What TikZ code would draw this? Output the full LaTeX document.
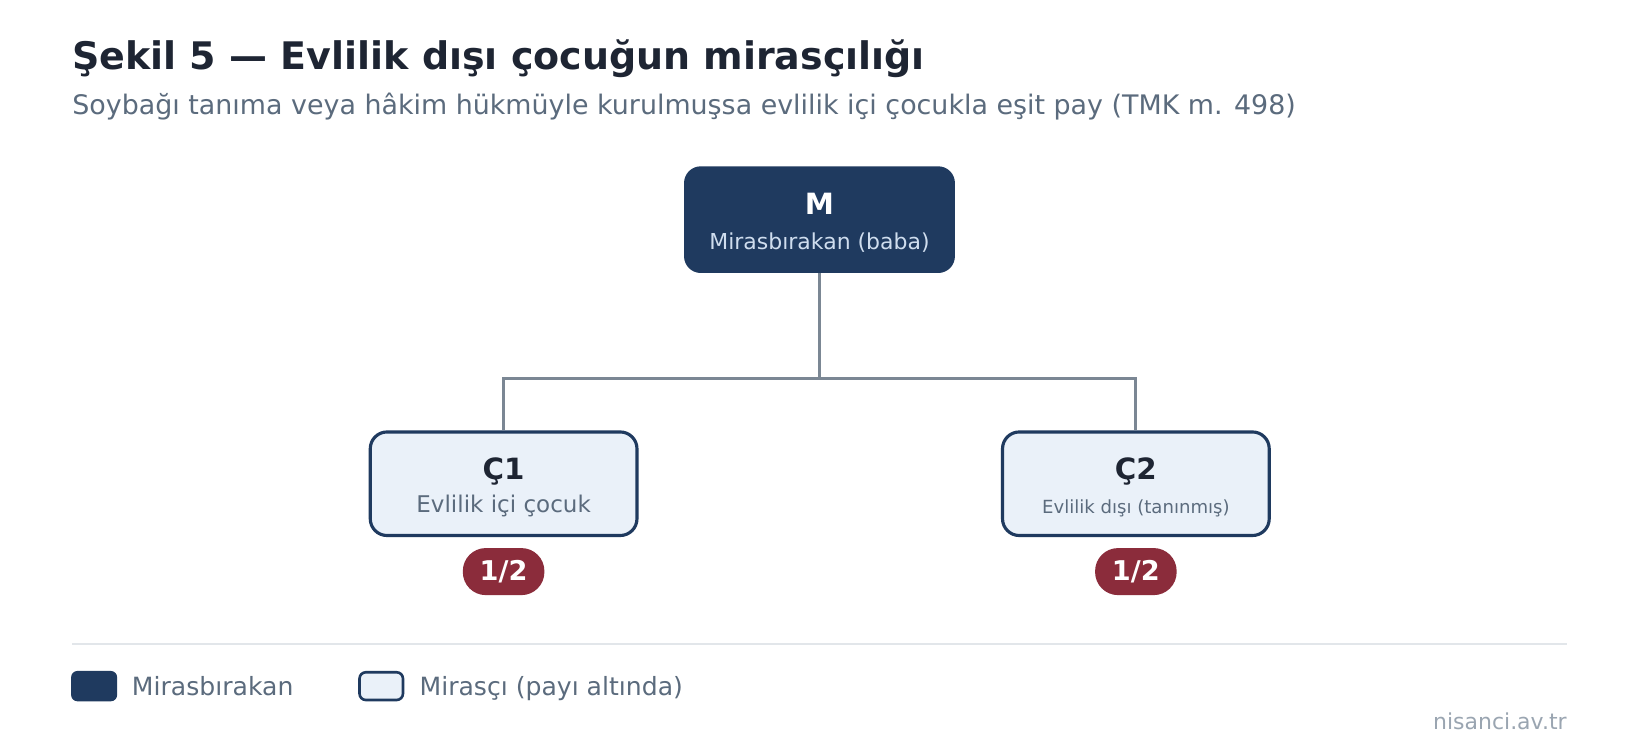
\documentclass[tikz,border=0pt]{standalone}
\usepackage{fontspec}
\setmainfont{DejaVu Sans}
\definecolor{navy}{HTML}{1F3A5F}
\definecolor{titlec}{HTML}{1E2533}
\definecolor{subc}{HTML}{5B6B7D}
\definecolor{lightc}{HTML}{EAF1F9}
\definecolor{linkc}{HTML}{7B8794}
\definecolor{badgec}{HTML}{8B2C3B}
\definecolor{sepc}{HTML}{E2E6EA}
\definecolor{mutedc}{HTML}{9AA5B1}
\definecolor{paletxt}{HTML}{CFDDEE}
\newcommand{\fs}[1]{\fontsize{#1pt}{#1pt}\selectfont}
\tikzset{
  x=1pt,y=-1pt,
  rootbox/.style={draw=none,fill=navy,rounded corners=16pt,minimum width=259pt,minimum height=102pt,inner sep=0pt},
  heirbox/.style={draw=navy,line width=3pt,fill=lightc,rounded corners=16pt,minimum width=255pt,minimum height=99pt,inner sep=0pt},
  badge/.style={fill=badgec,rounded corners=22pt,minimum width=78pt,minimum height=45pt,inner sep=0pt,text=white,font=\fs{26}\bfseries},
  link/.style={draw=linkc,line width=2.8pt},
  txt/.style={inner sep=0pt,anchor=base}
}
\begin{document}
\begin{tikzpicture}
\useasboundingbox (0,0) rectangle (1568,719);
\fill[white] (0,0) rectangle (1568,719);
% title
\node[txt,anchor=base west,text=titlec,font=\fs{36.3}\bfseries] (title) at (69,66) {Şekil 5 — Evlilik dışı çocuğun mirasçılığı};
\node[txt,anchor=base west,text=subc,font=\fs{25.7}] (sub) at (69,109) {Soybağı tanıma veya hâkim hükmüyle kurulmuşsa evlilik içi çocukla eşit pay (TMK m. 498)};
% nodes
\node[rootbox] (M) at (783.5,210) {};
\node[txt,text=white,font=\fs{28}\bfseries] (Mt) at (783.5,205) {M};
\node[txt,text=paletxt,font=\fs{21}] (Ms) at (783.5,239) {Mirasbırakan (baba)};
\node[heirbox] (C1) at (481.5,462.5) {};
\node[txt,text=titlec,font=\fs{28}\bfseries] (C1t) at (481.5,458) {Ç1};
\node[txt,text=subc,font=\fs{22}] (C1s) at (481.5,490) {Evlilik içi çocuk};
\node[heirbox] (C2) at (1086,462.5) {};
\node[txt,text=titlec,font=\fs{28}\bfseries] (C2t) at (1086,458) {Ç2};
\node[txt,text=subc,font=\fs{17.3}] (C2s) at (1086,491) {Evlilik dışı (tanınmış)};
\coordinate (J) at (783.5,362);
\draw[link] (M.south) -- (J);
\draw[link] (C1.north) |- (J) -| (C2.north);
\node[badge] (B1) at (481.5,546.5) {1/2};
\node[badge] (B2) at (1086,546.5) {1/2};
% separator
\coordinate (S1) at (69,616);
\coordinate (S2) at (1498,616);
\draw[sepc,line width=2pt] (S1) -- (S2);
% legend
\node[fill=navy,rounded corners=6pt,minimum width=44pt,minimum height=29pt,inner sep=0pt] (L1) at (90,656) {};
\node[txt,anchor=base west,text=subc,font=\fs{24}] (L1t) at (126,665) {Mirasbırakan};
\node[draw=navy,line width=2.5pt,fill=lightc,rounded corners=6pt,minimum width=41.5pt,minimum height=26.5pt,inner sep=0pt] (L2) at (364.5,656) {};
\node[txt,anchor=base west,text=subc,font=\fs{24}] (L2t) at (401,665) {Mirasçı (payı altında)};
\node[txt,anchor=base east,text=mutedc,font=\fs{21}] (W) at (1498,697) {nisanci.av.tr};
\end{tikzpicture}
\end{document}
